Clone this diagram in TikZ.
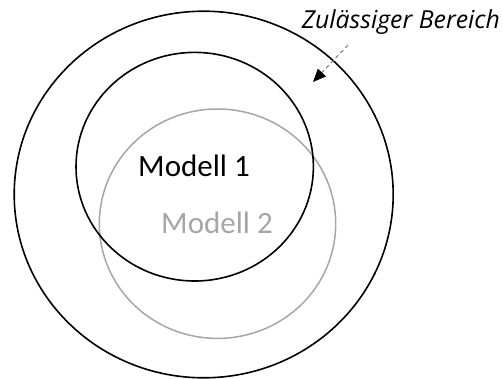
\documentclass[tikz,border=0pt]{standalone}
\usepackage{fontspec}
\setmainfont{Carlito}
\newfontfamily\notefont{Open Sans}
\usetikzlibrary{arrows.meta}
\definecolor{lightgrey}{HTML}{A6A6A6}
\tikzset{
  blackring/.style={draw=black, line width=1.6pt},
  greyring/.style={draw=lightgrey, line width=1.5pt},
  txt/.style={inner sep=0pt, anchor=base},
}
\begin{document}
\begin{tikzpicture}[x=1pt,y=-1pt]
  \useasboundingbox (0,0) rectangle (503,379);
  % allowed region and the two model regions
  \draw[blackring] (203.7,194.5) ellipse [x radius=189.5, y radius=183.3];
  \draw[greyring] (217.5,223.7) ellipse [x radius=118.2, y radius=114.7];
  \draw[blackring] (194.7,166.7) ellipse [x radius=118.7, y radius=114.3];
  % labels
  \node[txt, font=\fontsize{31}{33}\selectfont] (m1) at (194,177) {Modell 1};
  \node[txt, font=\fontsize{31}{33}\selectfont, text=lightgrey] (m2) at (217,234) {Modell 2};
  \node[txt, font=\notefont\fontsize{24.8}{27}\selectfont\itshape] (zb) at (401,29) {Zulässiger Bereich};
  % pointer into the allowed region
  \coordinate (tail) at (348,45);
  \coordinate (tip) at (313,82);
  \draw[draw=gray, line width=1pt, dash pattern=on 4pt off 3pt,
        -{Triangle[fill=black, color=black, length=13pt, width=11pt]}] (tail) -- (tip);
\end{tikzpicture}
\end{document}
